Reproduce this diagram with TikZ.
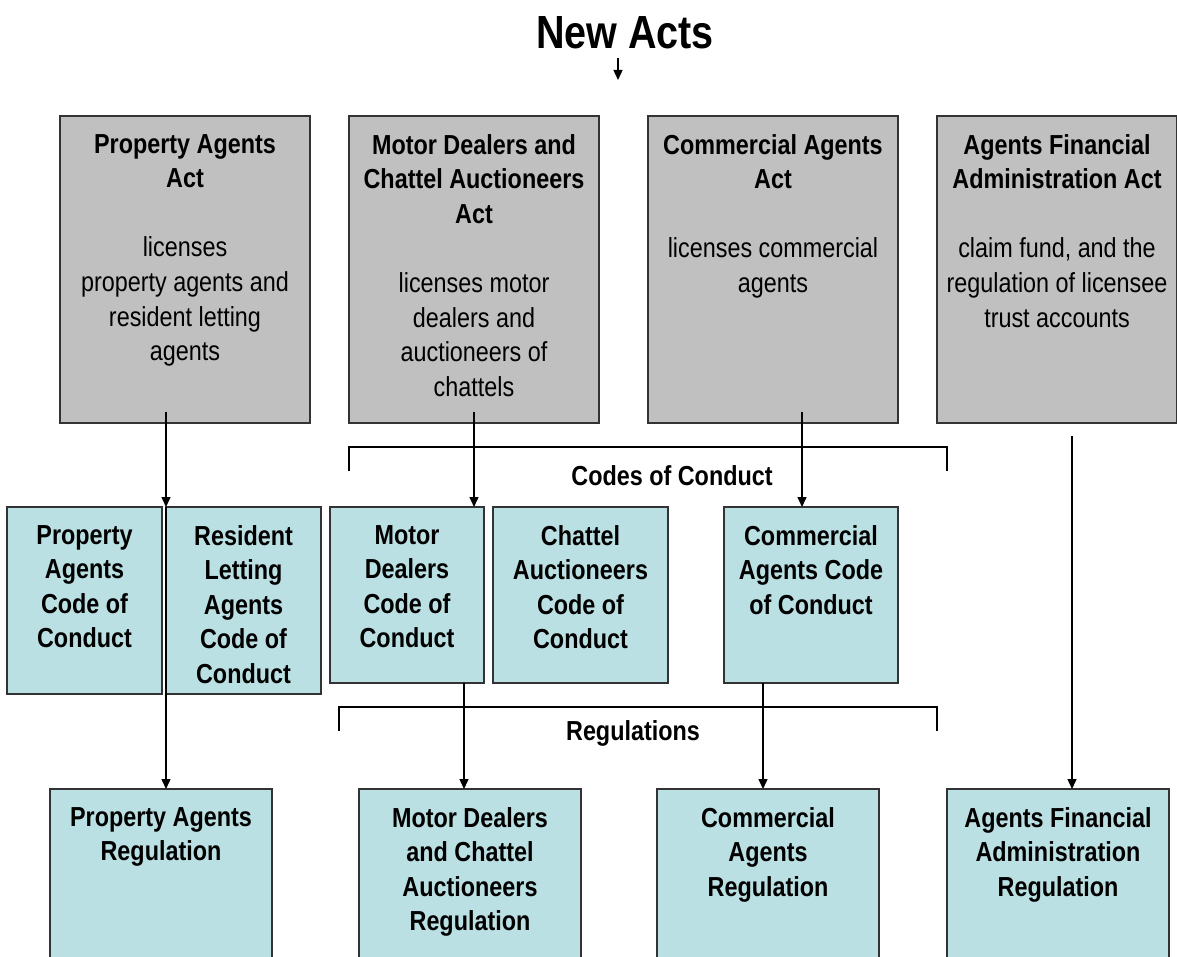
\documentclass[tikz,border=0pt]{standalone}
\usepackage{fontspec}
\setmainfont{Liberation Sans}[FakeStretch=0.85]
\usetikzlibrary{arrows.meta}

\definecolor{actgray}{HTML}{C0C0C0}
\definecolor{codeblue}{HTML}{BBE0E3}
\definecolor{edgegray}{HTML}{333333}

\tikzset{
  box/.style={draw=edgegray, line width=1.3pt, inner sep=0pt, outer sep=0pt, anchor=north west},
  actbox/.style={box, fill=actgray, minimum height=307pt},
  codebox/.style={box, fill=codeblue},
  regbox/.style={box, fill=codeblue, minimum height=260pt},
  boxtext/.style={anchor=north, align=center, inner sep=0pt, font=\fontsize{27.5}{34.6}\selectfont},
  boldtext/.style={boxtext, font=\fontsize{27.5}{34.6}\selectfont\bfseries},
  arr/.style={draw=black, line width=1.4pt, -{Triangle[length=10pt,width=9pt]}},
  bracket/.style={draw=black, line width=1.2pt},
  bracketlabel/.style={inner sep=0pt, font=\fontsize{27.5}{30}\selectfont\bfseries},
}

\begin{document}
\begin{tikzpicture}[x=1pt, y=-1pt]
  \clip (0,0) rectangle (1177,957);
  \fill[white] (0,0) rectangle (1177,957);

  % heading
  \node[inner sep=0pt, font=\fontsize{46.5}{50}\selectfont\bfseries] (title) at (625,33) {New Acts};
  \coordinate (title-from) at (618,58);
  \coordinate (title-to) at (618,80);

  % the four Acts
  \node[actbox, minimum width=250pt] (paact) at (60,116) {};
  \node[actbox, minimum width=250pt] (mdact) at (349,116) {};
  \node[actbox, minimum width=250pt] (caact) at (648,116) {};
  \node[actbox, minimum width=240pt] (afaact) at (937,116) {};

  \node[boxtext] (paact-t) at ([yshift=-18pt]paact.north)
    {\textbf{Property Agents}\\\textbf{Act}\\[34.6pt]licenses\\property agents and\\resident letting\\agents};
  \node[boxtext] (mdact-t) at ([yshift=-18pt]mdact.north)
    {\textbf{Motor Dealers and}\\\textbf{Chattel Auctioneers}\\\textbf{Act}\\[34.6pt]licenses motor\\dealers and\\auctioneers of\\chattels};
  \node[boxtext] (caact-t) at ([yshift=-18pt]caact.north)
    {\textbf{Commercial Agents}\\\textbf{Act}\\[34.6pt]licenses commercial\\agents};
  \node[boxtext] (afaact-t) at ([yshift=-18pt]afaact.north)
    {\textbf{Agents Financial}\\\textbf{Administration Act}\\[34.6pt]claim fund, and the\\regulation of licensee\\trust accounts};

  % codes of conduct
  \node[codebox, minimum width=155pt, minimum height=187pt] (pacoc) at (7,507) {};
  \node[codebox, minimum width=155pt, minimum height=187pt] (rlacoc) at (166,507) {};
  \node[codebox, minimum width=154pt, minimum height=176pt] (mdcoc) at (330,507) {};
  \node[codebox, minimum width=175pt, minimum height=176pt] (chcoc) at (493,507) {};
  \node[codebox, minimum width=174pt, minimum height=176pt] (cacoc) at (724,507) {};

  \node[boldtext] (pacoc-t) at ([yshift=-18pt]pacoc.north)
    {Property\\Agents\\Code of\\Conduct};
  \node[boldtext] (rlacoc-t) at ([yshift=-18pt]rlacoc.north)
    {Resident\\Letting\\Agents\\Code of\\Conduct};
  \node[boldtext] (mdcoc-t) at ([yshift=-18pt]mdcoc.north)
    {Motor\\Dealers\\Code of\\Conduct};
  \node[boldtext] (chcoc-t) at ([yshift=-18pt]chcoc.north)
    {Chattel\\Auctioneers\\Code of\\Conduct};
  \node[boldtext] (cacoc-t) at ([yshift=-18pt]cacoc.north)
    {Commercial\\Agents Code\\of Conduct};

  % regulations
  \node[regbox, minimum width=222pt] (pareg) at (50,789) {};
  \node[regbox, minimum width=222pt] (mdreg) at (359,789) {};
  \node[regbox, minimum width=222pt] (careg) at (657,789) {};
  \node[regbox, minimum width=222pt] (afareg) at (947,789) {};

  \node[boldtext] (pareg-t) at ([yshift=-18pt]pareg.north)
    {Property Agents\\Regulation};
  \node[boldtext] (mdreg-t) at ([yshift=-18pt]mdreg.north)
    {Motor Dealers\\and Chattel\\Auctioneers\\Regulation};
  \node[boldtext] (careg-t) at ([yshift=-18pt]careg.north)
    {Commercial\\Agents\\Regulation};
  \node[boldtext] (afareg-t) at ([yshift=-18pt]afareg.north)
    {Agents Financial\\Administration\\Regulation};

  % brackets grouping the tiers
  \coordinate (cb-l) at (349,471);
  \coordinate (cb-r) at (947,471);
  \draw[bracket] (cb-l) -- (349,447) -- (947,447) -- (cb-r);
  \node[bracketlabel] (cb-label) at (672,476) {Codes of Conduct};

  \coordinate (rb-l) at (339,731);
  \coordinate (rb-r) at (937,731);
  \draw[bracket] (rb-l) -- (339,707) -- (937,707) -- (rb-r);
  \node[bracketlabel] (rb-label) at (633,733) {Regulations};

  % connectors
  \draw[arr] (title-from) -- (title-to);

  \coordinate (pa-src) at (166,412);
  \draw[arr] (pa-src) -- (rlacoc.north west);
  \draw[arr] (rlacoc.north west) -- (rlacoc.north west |- pareg.north);

  \coordinate (md-src) at (474,412);
  \draw[arr] (md-src) -- (md-src |- mdcoc.north);
  \coordinate (mdcoc-out) at (464,683);
  \draw[arr] (mdcoc-out) -- (mdcoc-out |- mdreg.north);

  \coordinate (ca-src) at (802,412);
  \draw[arr] (ca-src) -- (ca-src |- cacoc.north);
  \coordinate (cacoc-out) at (763,683);
  \draw[arr] (cacoc-out) -- (cacoc-out |- careg.north);

  \coordinate (afa-src) at (1072,436);
  \draw[arr] (afa-src) -- (afa-src |- afareg.north);
\end{tikzpicture}
\end{document}
